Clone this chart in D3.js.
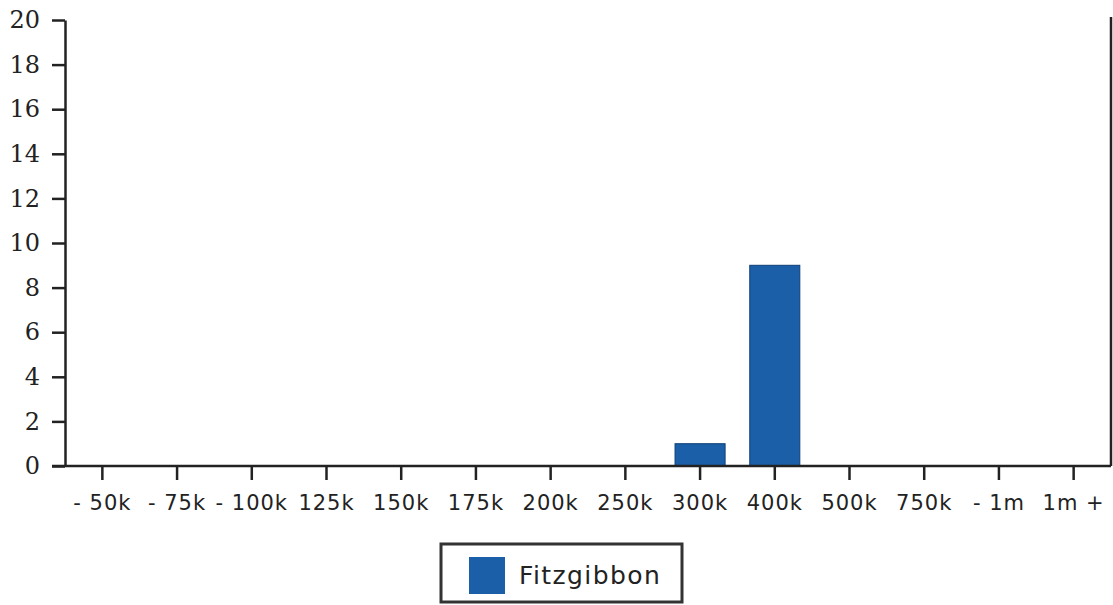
<!DOCTYPE html>
<html>
<head>
<meta charset="utf-8">
<script src="https://cdn.jsdelivr.net/npm/d3@7"></script>
<style>
  body { margin: 0; background: #fff; }
  .yaxis text { font-family: "DejaVu Serif", serif; font-size: 24px; fill: #222; }
  .xaxis text { font-family: "DejaVu Sans", sans-serif; font-size: 21px; fill: #222; letter-spacing: 1px; }
  .legend-text { font-family: "DejaVu Sans", sans-serif; font-size: 25px; fill: #222; }
</style>
</head>
<body>
<svg class="chart"></svg>
<script>
// price bands and counts
const bands = ["- 50k", "- 75k", "- 100k", "125k", "150k", "175k", "200k",
  "250k", "300k", "400k", "500k", "750k", "- 1m", "1m +"];
const counts = [0, 0, 0, 0, 0, 0, 0, 0, 1, 9, 0, 0, 0, 0];
const seriesName = "Fitzgibbon";
const yTicks = [0, 2, 4, 6, 8, 10, 12, 14, 16, 18, 20];

const margin = {top: 20, right: 2, bottom: 139, left: 65};
const width = 1113 - margin.left - margin.right;
const height = 605 - margin.top - margin.bottom;

const svg = d3.select(".chart")
  .attr("width", 1113)
  .attr("height", 605)
  .append("g")
  .attr("transform", "translate(" + margin.left + "," + margin.top + ")");

const x = d3.scaleBand()
  .domain(bands)
  .range([0, width])
  .paddingInner(0.33)
  .paddingOuter(0.165);

const y = d3.scaleLinear()
  .domain([0, 20])
  .range([height, 0]);

// bars
svg.selectAll("rect.bar")
  .data(counts.map((c, i) => ({band: bands[i], value: c})).filter(d => d.value > 0))
  .enter().append("rect")
  .attr("class", "bar")
  .attr("x", d => x(d.band))
  .attr("y", d => y(d.value))
  .attr("width", x.bandwidth())
  .attr("height", d => height - y(d.value))
  .attr("fill", "#1a5fa7")
  .attr("stroke", "#0f3f78")
  .attr("stroke-width", 1);

// right frame line
svg.append("line")
  .attr("x1", width).attr("x2", width)
  .attr("y1", -3).attr("y2", height)
  .attr("stroke", "#222")
  .attr("stroke-width", 2.5);

const yAxis = svg.append("g")
  .attr("class", "yaxis")
  .call(d3.axisLeft(y).tickValues(yTicks).tickSize(13).tickPadding(12).tickSizeOuter(0));

const xAxis = svg.append("g")
  .attr("class", "xaxis")
  .attr("transform", "translate(0," + height + ")")
  .call(d3.axisBottom(x).tickSize(14).tickPadding(12).tickSizeOuter(0));

svg.selectAll(".yaxis path, .yaxis line, .xaxis path, .xaxis line")
  .attr("stroke", "#222")
  .attr("stroke-width", 2.5);

// extend bottom axis line to the left past the y axis
xAxis.select(".domain").attr("d", "M-13,0H" + width);
xAxis.selectAll(".tick text").attr("dy", "0.85em");

// legend
const legend = d3.select(".chart").append("g")
  .attr("transform", "translate(441,544)");

legend.append("rect")
  .attr("width", 241)
  .attr("height", 58)
  .attr("fill", "#fff")
  .attr("stroke", "#333")
  .attr("stroke-width", 3);

legend.append("rect")
  .attr("x", 28)
  .attr("y", 13)
  .attr("width", 36)
  .attr("height", 37)
  .attr("fill", "#1a5fa7");

legend.append("text")
  .attr("class", "legend-text")
  .attr("x", 78)
  .attr("y", 40)
  .attr("letter-spacing", "1.4px")
  .text(seriesName);
</script>
</body>
</html>
